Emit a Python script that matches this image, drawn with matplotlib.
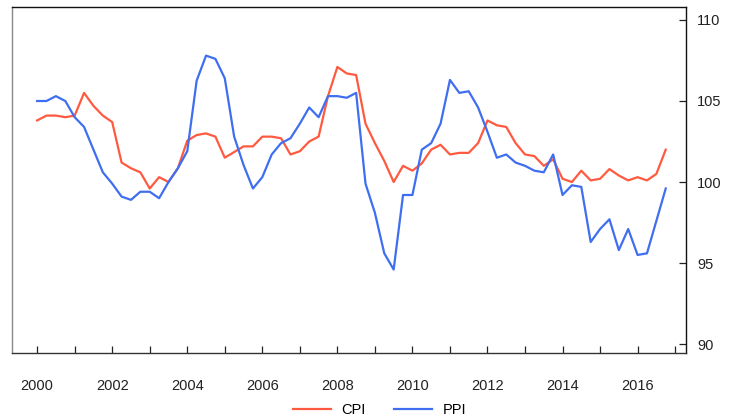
import numpy as np
import matplotlib
matplotlib.use('Agg')
import matplotlib.pyplot as plt
from matplotlib.ticker import MultipleLocator

plt.rcParams['font.family'] = ['Liberation Sans', 'DejaVu Sans']

# quarterly, 2000Q1 .. 2016Q4
start_year = 2000
cpi = [103.8, 104.1, 104.1, 104.0, 104.1, 105.5, 104.7, 104.1, 103.7, 101.2,
       100.85, 100.6, 99.6, 100.3, 100.0, 100.85, 102.55, 102.9, 103.0, 102.8,
       101.5, 101.85, 102.2, 102.2, 102.8, 102.8, 102.7, 101.7, 101.9, 102.5,
       102.8, 105.3, 107.1, 106.7, 106.6, 103.6, 102.4, 101.3, 100.0, 101.0,
       100.7, 101.15, 102.0, 102.3, 101.7, 101.8, 101.8, 102.4, 103.8, 103.5,
       103.4, 102.4, 101.7, 101.6, 101.0, 101.4, 100.2, 100.0, 100.7, 100.1,
       100.2, 100.8, 100.4, 100.1, 100.3, 100.1, 100.5, 102.0]
ppi = [105.0, 105.0, 105.3, 105.0, 104.0, 103.4, 102.0, 100.6, 99.9, 99.1,
       98.9, 99.4, 99.4, 99.0, 100.0, 100.85, 101.9, 106.25, 107.8, 107.6,
       106.4, 102.8, 101.05, 99.6, 100.3, 101.7, 102.4, 102.7, 103.6, 104.6,
       104.0, 105.3, 105.3, 105.2, 105.5, 99.9, 98.1, 95.6, 94.6, 99.2,
       99.2, 102.0, 102.4, 103.6, 106.3, 105.5, 105.6, 104.6, 103.1, 101.5,
       101.7, 101.2, 101.0, 100.7, 100.6, 101.7, 99.2, 99.8, 99.7, 96.3,
       97.1, 97.7, 95.8, 97.1, 95.5, 95.6, 97.6, 99.6]
series_names = ['CPI', 'PPI']
series_colors = ['#ff5a40', '#3f6ff0']

t = start_year + np.arange(len(cpi)) / 4.0

fig = plt.figure(figsize=(7.31, 4.20), dpi=100)
ax = fig.add_axes([12 / 731, 1 - 353 / 420, (686 - 12) / 731, (353 - 7) / 420])

for vals, name, col in zip([cpi, ppi], series_names, series_colors):
    ax.plot(t, vals, color=col, lw=1.6, label=name)

ax.set_xlim(1999.33, 2017.29)
ax.set_ylim(89.45, 110.8)

ax.xaxis.set_major_locator(MultipleLocator(2))
ax.xaxis.set_minor_locator(MultipleLocator(1))
ax.set_xticks(np.arange(2000, 2017, 2))
ax.yaxis.set_major_locator(MultipleLocator(5))
ax.yaxis.tick_right()

ax.tick_params(axis='x', which='both', direction='in', length=5, width=0.9,
               pad=19, labelsize=10.5, colors='#222222')
ax.tick_params(axis='y', direction='in', length=5, width=0.9, pad=8,
               labelsize=10.5, colors='#222222')

ax.spines['left'].set_color('#888888')
ax.spines['bottom'].set_color('#333333')
ax.spines['top'].set_color('#111111')
ax.spines['right'].set_color('#111111')
for s in ax.spines.values():
    s.set_linewidth(1.0)

fig.legend(loc='center', bbox_to_anchor=(0.519, 0.024), ncol=2, frameon=False,
           fontsize=10.5, handlelength=2.6, columnspacing=2.0, handletextpad=0.7)

fig.savefig('out.png', dpi=100)
